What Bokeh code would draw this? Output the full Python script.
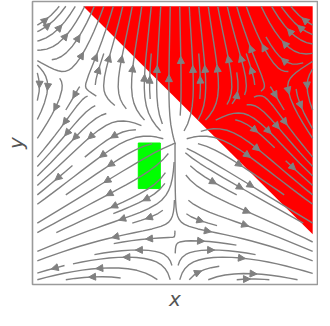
import numpy as np
from bokeh.plotting import figure
from bokeh.models import Range1d, FixedTicker, Arrow, NormalHead, ColumnDataSource
from bokeh.embed import file_html
from bokeh.resources import INLINE

# ---- data -------------------------------------------------------------
x_domain = [-3.0, 3.0]
y_domain = [-3.0, 3.0]
# vector field: dx/dt = x - a*x*y ; dy/dt = y + b*y^2 - c*x^2
field_a = 0.8
field_b = 0.48
field_c = 0.46
# unsafe set (x + y > 1) and initial set
unsafe_x = [-2.0, 3.0, 3.0]
unsafe_y = [3.0, 3.0, -2.0]
init_x = [-0.8, -0.32]
init_y = [-1.0, 0.0]
x_label = "x"
y_label = "y"

# ---- streamplot (matplotlib-like algorithm, density 1) ----------------
X0, X1 = x_domain
Y0, Y1 = y_domain
W, H = X1 - X0, Y1 - Y0
NM = 30


def field(x, y):
    return x - field_a * x * y, y + field_b * y * y - field_c * x * x


def f_dir(xa, ya, sign):
    u, v = field(X0 + xa * W, Y0 + ya * H)
    ua, va = u / W, v / H
    sp = np.hypot(ua, va)
    if sp == 0:
        return None
    return sign * ua / sp, sign * va / sp


def within(xa, ya):
    return 0.0 <= xa <= 1.0 and 0.0 <= ya <= 1.0


mask = np.zeros((NM, NM), dtype=int)
state = {"traj": [], "cur": None}


def to_mask(xa, ya):
    return int(xa * (NM - 1) + 0.5), int(ya * (NM - 1) + 0.5)


def update(xa, ya):
    if not within(xa, ya):
        return False
    xm, ym = to_mask(xa, ya)
    if state["cur"] != (xm, ym):
        if mask[ym, xm] == 0:
            state["traj"].append((ym, xm))
            mask[ym, xm] = 1
            state["cur"] = (xm, ym)
        else:
            return False
    return True


def rk12(xa, ya, sign, maxlength=4.0):
    maxerror = 0.003
    maxds = min(1.0 / NM, 0.1)
    ds = maxds
    stotal = 0.0
    xs, ys = [], []
    steps = 0
    while steps < 20000:
        steps += 1
        if not within(xa, ya):
            break
        xs.append(xa)
        ys.append(ya)
        k1 = f_dir(xa, ya, sign)
        if k1 is None:
            break
        xt, yt = xa + ds * k1[0], ya + ds * k1[1]
        if not within(xt, yt):
            cx, cy = k1
            dsx = np.inf if cx == 0 else (xa / -cx if cx < 0 else (1 - xa) / cx)
            dsy = np.inf if cy == 0 else (ya / -cy if cy < 0 else (1 - ya) / cy)
            d = min(dsx, dsy)
            xs.append(xa + cx * d)
            ys.append(ya + cy * d)
            stotal += d
            break
        k2 = f_dir(xt, yt, sign)
        if k2 is None:
            break
        dx1, dy1 = ds * k1[0], ds * k1[1]
        dx2, dy2 = ds * 0.5 * (k1[0] + k2[0]), ds * 0.5 * (k1[1] + k2[1])
        error = np.hypot(dx2 - dx1, dy2 - dy1)
        if error < maxerror:
            xa += dx2
            ya += dy2
            if not update(xa, ya):
                break
            if stotal + ds > maxlength:
                break
            stotal += ds
        if error == 0:
            ds = maxds
        else:
            ds = min(maxds, 0.85 * ds * (maxerror / error) ** 0.5)
    return stotal, xs, ys


def gen_start(n):
    xfirst, yfirst, xlast, ylast = 0, 1, n - 1, n - 1
    x, y = 0, 0
    d = "right"
    for _ in range(n * n):
        yield x, y
        if d == "right":
            x += 1
            if x >= xlast:
                xlast -= 1
                d = "up"
        elif d == "up":
            y += 1
            if y >= ylast:
                ylast -= 1
                d = "left"
        elif d == "left":
            x -= 1
            if x <= xfirst:
                xfirst += 1
                d = "down"
        else:
            y -= 1
            if y <= yfirst:
                yfirst += 1
                d = "right"


trajectories = []
for xm, ym in gen_start(NM):
    if mask[ym, xm] != 0:
        continue
    xa0, ya0 = xm / (NM - 1), ym / (NM - 1)
    state["traj"] = []
    state["cur"] = None
    update(xa0, ya0)
    s1, xb, yb = rk12(xa0, ya0, -1.0)
    state["cur"] = to_mask(xa0, ya0)
    s2, xf, yf = rk12(xa0, ya0, 1.0)
    tot = s1 + s2
    txs = xb[::-1] + xf[1:]
    tys = yb[::-1] + yf[1:]
    if tot > 0.1 and len(txs) > 2:
        trajectories.append((np.array(txs), np.array(tys)))
    else:
        for (cy, cx) in state["traj"]:
            mask[cy, cx] = 0

line_xs, line_ys = [], []
ax0, ay0, ax1, ay1 = [], [], [], []
for txa, tya in trajectories:
    tx = X0 + txa * W
    ty = Y0 + tya * H
    line_xs.append(list(tx))
    line_ys.append(list(ty))
    s = np.cumsum(np.hypot(np.diff(tx), np.diff(ty)))
    n = int(np.searchsorted(s, s[-1] / 2.0))
    n = min(n, len(tx) - 2)
    ax0.append(tx[n])
    ay0.append(ty[n])
    ax1.append(np.mean(tx[n:n + 2]))
    ay1.append(np.mean(ty[n:n + 2]))

# ---- figure -----------------------------------------------------------
pad = 0.105
p = figure(frame_width=285, frame_height=283, output_backend="svg", toolbar_location=None,
           x_range=Range1d(X0 - pad, X1 + pad), y_range=Range1d(Y0 - pad, Y1 + pad),
           min_border_left=4, min_border_right=1, min_border_top=1, min_border_bottom=4)
p.grid.visible = False
p.outline_line_color = "#9a9a9a"
p.outline_line_width = 1.6
p.background_fill_color = "white"

for ax, lab in ((p.xaxis, x_label), (p.yaxis, y_label)):
    ax.ticker = FixedTicker(ticks=[])
    ax.major_tick_line_color = None
    ax.minor_tick_line_color = None
    ax.major_tick_out = 0
    ax.minor_tick_out = 0
    ax.major_tick_in = 0
    ax.minor_tick_in = 0
    ax.major_label_standoff = 0
    ax.axis_line_color = None
    ax.major_label_text_font_size = "0px"
    ax.axis_label = lab
    ax.axis_label_text_font = "DejaVu Sans"
    ax.axis_label_text_font_style = "italic"
    ax.axis_label_text_font_size = "20px"
    ax.axis_label_text_color = "#555555"
p.xaxis.axis_label_standoff = 2
p.yaxis.axis_label_standoff = 5

p.patch(unsafe_x, unsafe_y, fill_color="#ff0000", line_color=None)
p.quad(left=[init_x[0]], right=[init_x[1]], bottom=[init_y[0]], top=[init_y[1]],
       fill_color="#00ff00", line_color="#00ff00", line_width=1)

p.multi_line(line_xs, line_ys, line_color="#808080", line_width=1.4)
src = ColumnDataSource(dict(x0=ax0, y0=ay0, x1=ax1, y1=ay1))
p.add_layout(Arrow(end=NormalHead(size=7, fill_color="#808080", line_color="#808080", line_width=1),
                   x_start="x0", y_start="y0", x_end="x1", y_end="y1", source=src,
                   line_color="#808080", line_width=1.4))

open("out.html", "w").write(file_html(p, INLINE))
